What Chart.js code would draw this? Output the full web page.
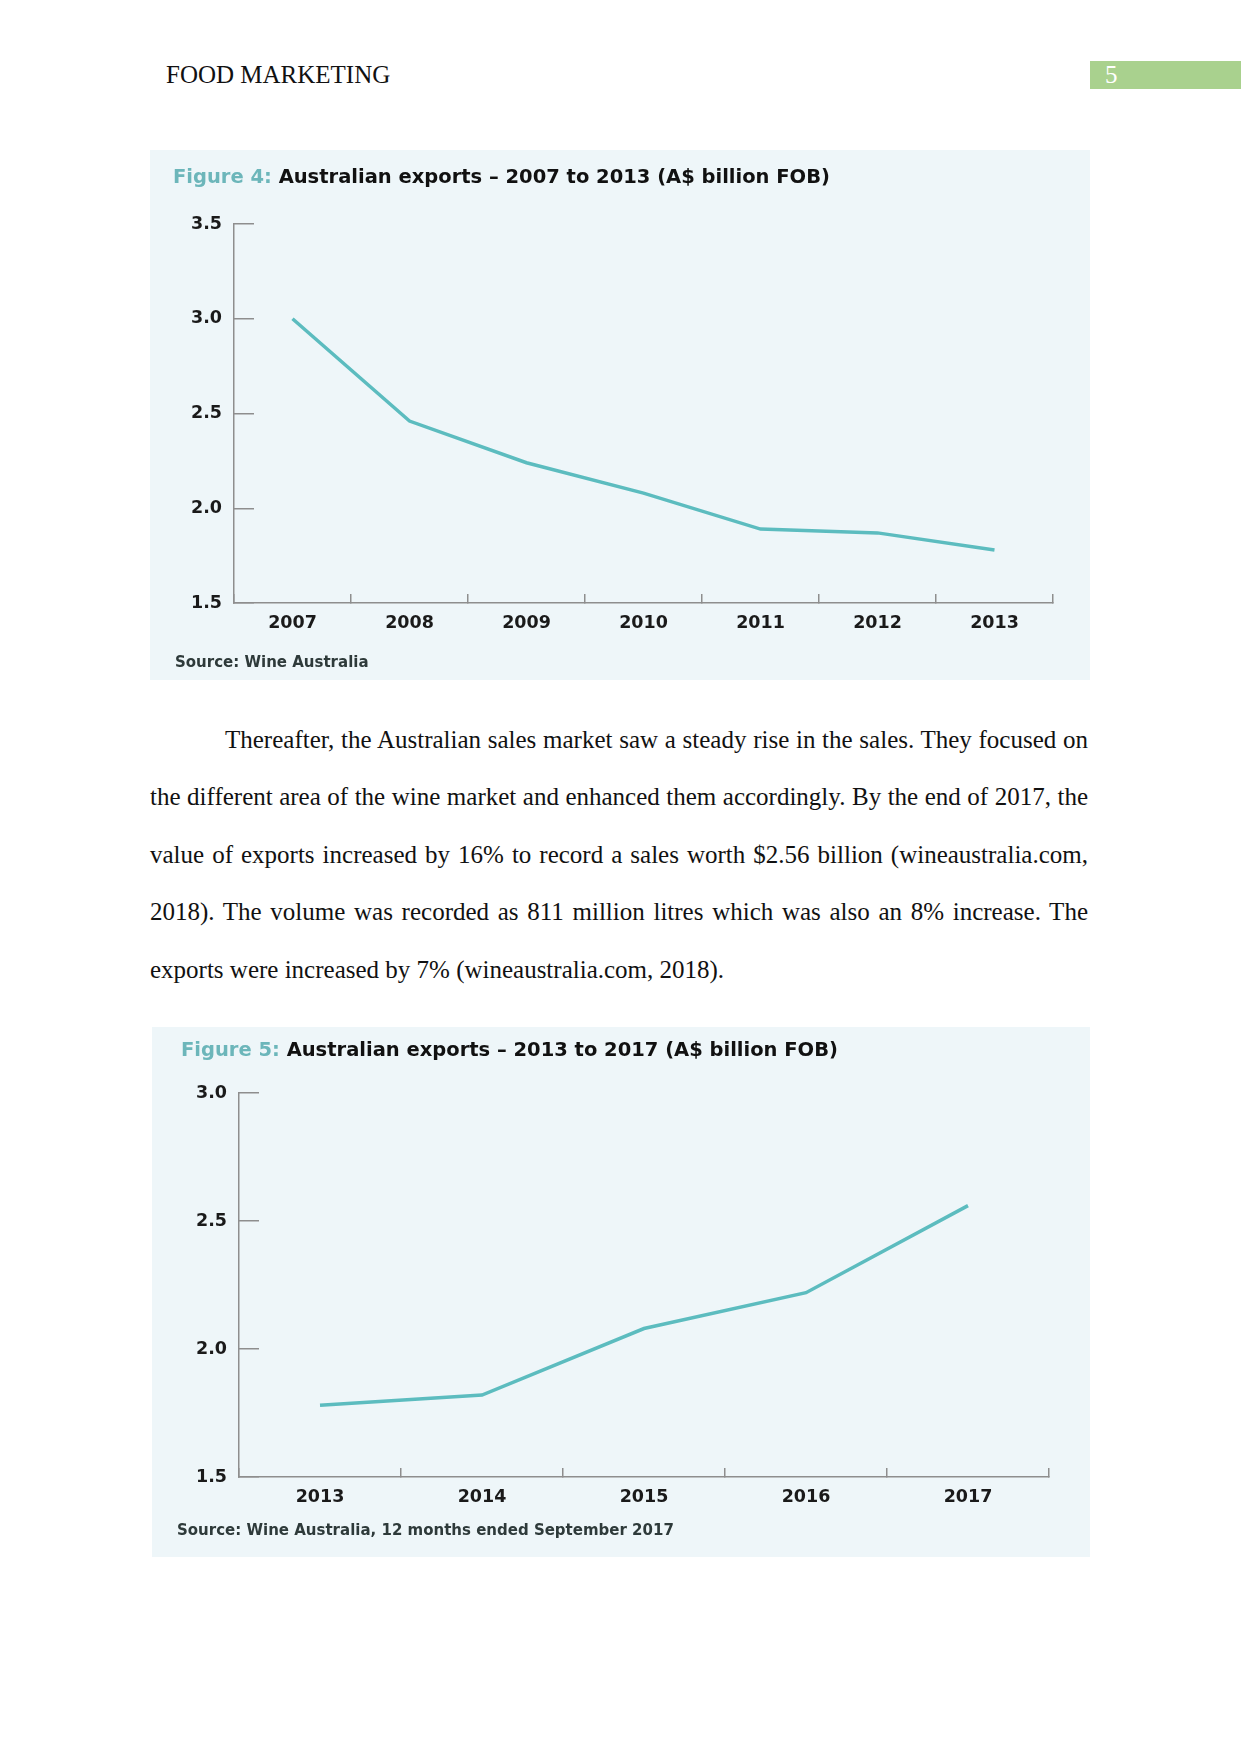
<!DOCTYPE html>
<html>
<head>
<meta charset="utf-8">
<script src="https://cdn.jsdelivr.net/npm/chart.js@4.4.1/dist/chart.umd.min.js"></script>
<style>
  html, body { margin: 0; padding: 0; background: #fff; }
  body { width: 1241px; height: 1754px; position: relative; overflow: hidden; }
  .hdr { position: absolute; left: 166px; top: 60px; font: 25px "Liberation Serif", serif; color: #111; line-height: 30px; }
  .pgno { position: absolute; left: 1090px; top: 61px; width: 151px; height: 28px; background: #a9d18e;
          font: 25px "Liberation Serif", serif; color: #fff; line-height: 28px; text-indent: 15px; }
  .panel { position: absolute; background: #eef6f9; }
  .panel canvas { position: absolute; left: 0; top: 0; }
  .ttl { position: absolute; font: 700 19.5px "DejaVu Sans", sans-serif; color: #111; white-space: nowrap; line-height: 24px; }
  .ttl span { color: #6cb6ba; }
  .src { position: absolute; font: 700 15px "DejaVu Sans", sans-serif; color: #2e3a3a; white-space: nowrap; line-height: 18px; }
  .body { position: absolute; left: 150px; top: 711px; width: 938px; font: 25px "Liberation Serif", serif;
          line-height: 57.4px; text-align: justify; color: #111; text-indent: 75px; }
</style>
</head>
<body>
<div class="hdr">FOOD MARKETING</div>
<div class="pgno">5</div>

<div class="panel" id="p4" style="left:150px; top:150px; width:940px; height:530px;">
  <canvas id="fig4" width="940" height="530"></canvas>
  <div class="ttl" style="left:23px; top:15px;"><span>Figure 4:</span> Australian exports – 2007 to 2013 (A$ billion FOB)</div>
  <div class="src" style="left:25px; top:503px;">Source: Wine Australia</div>
</div>

<div class="body">Thereafter, the Australian sales market saw a steady rise in the sales. They focused on the different area of the wine market and enhanced them accordingly. By the end of 2017, the value of exports increased by 16% to record a sales worth $2.56 billion (wineaustralia.com, 2018). The volume was recorded as 811 million litres which was also an 8% increase. The exports were increased by 7% (wineaustralia.com, 2018).</div>

<div class="panel" id="p5" style="left:152px; top:1027px; width:938px; height:530px;">
  <canvas id="fig5" width="938" height="530"></canvas>
  <div class="ttl" style="left:29px; top:11px;"><span>Figure 5:</span> Australian exports – 2013 to 2017 (A$ billion FOB)</div>
  <div class="src" style="left:25px; top:494px;">Source: Wine Australia, 12 months ended September 2017</div>
</div>

<script>
// --- data (A$ billion FOB) ---
const fig4Years = ["2007", "2008", "2009", "2010", "2011", "2012", "2013"];
const fig4Values = [3.00, 2.46, 2.24, 2.08, 1.89, 1.87, 1.78];
const fig4Ticks = [1.5, 2.0, 2.5, 3.0, 3.5];

const fig5Years = ["2013", "2014", "2015", "2016", "2017"];
const fig5Values = [1.78, 1.82, 2.08, 2.22, 2.56];
const fig5Ticks = [1.5, 2.0, 2.5, 3.0];

const LINE = "#5cbcbf";
const AXIS = "#8e8e8e";
const TICK_FONT = { family: "DejaVu Sans", weight: "700", size: 17.5 };

// geom: chart area box inside the canvas
function drawExports(id, labels, values, ticks, geom) {
  const canvas = document.getElementById(id);
  const W = canvas.width, H = canvas.height;
  const xAxisH = 45;

  return new Chart(canvas.getContext("2d"), {
    type: "line",
    data: {
      labels,
      datasets: [{
        data: values,
        borderColor: LINE,
        borderWidth: 3.5,
        pointRadius: 0,
        tension: 0,
        fill: false,
      }],
    },
    options: {
      responsive: false,
      animation: false,
      events: [],
      layout: {
        padding: { left: 0, top: geom.top, right: W - geom.right, bottom: H - geom.bottom - xAxisH },
      },
      plugins: { legend: { display: false }, tooltip: { enabled: false } },
      scales: {
        x: {
          type: "category",
          offset: true,
          grid: { offset: true, drawOnChartArea: false, drawTicks: true, tickLength: -9, color: AXIS, lineWidth: 1.5 },
          border: { display: true, color: AXIS, width: 1.5 },
          ticks: { color: "#1a1a1a", font: TICK_FONT, padding: 19, maxRotation: 0 },
          afterFit: (s) => { s.height = xAxisH; },
        },
        y: {
          type: "linear",
          min: ticks[0],
          max: ticks[ticks.length - 1],
          afterBuildTicks: (s) => { s.ticks = ticks.map((v) => ({ value: v })); },
          grid: { drawOnChartArea: false, drawTicks: true, tickLength: -20, color: AXIS, lineWidth: 1.5 },
          border: { display: true, color: AXIS, width: 1.5 },
          ticks: { color: "#1a1a1a", font: TICK_FONT, padding: 32, callback: (v) => Number(v).toFixed(1) },
          afterFit: (s) => { s.width = geom.left; },
        },
      },
    },
  });
}

drawExports("fig4", fig4Years, fig4Values, fig4Ticks, { left: 84, top: 74, right: 903, bottom: 453 });
drawExports("fig5", fig5Years, fig5Values, fig5Ticks, { left: 87, top: 66, right: 897, bottom: 450 });
</script>
</body>
</html>
